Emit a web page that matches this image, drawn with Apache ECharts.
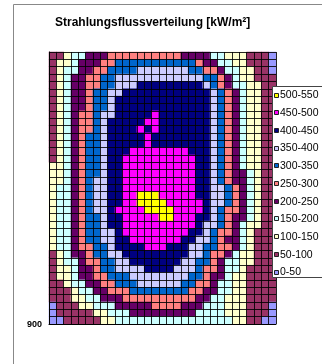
<!DOCTYPE html>
<html>
<head>
<meta charset="utf-8">
<script src="https://cdn.jsdelivr.net/npm/echarts@6/dist/echarts.min.js"></script>
<style>
  html, body { margin: 0; padding: 0; background: #fff; }
  #chart { width: 322px; height: 364px; }
</style>
</head>
<body>
<div id="chart"></div>
<script>
// Flux bands (kW/m²): lower limits, labels and fill colours
const bandLimits = [0, 50, 100, 150, 200, 250, 300, 350, 400, 450, 500, 550];
const bandLabels = ['0-50', '50-100', '100-150', '150-200', '200-250', '250-300',
                    '300-350', '350-400', '400-450', '450-500', '500-550'];
const bandColors = ['#9999FF', '#993366', '#FFFFCC', '#CCFFFF', '#660066', '#FF8080',
                    '#0066CC', '#CCCCFF', '#000080', '#FF00FF', '#FFFF00'];

// Measured band per grid cell, one string per row (top to bottom), one hex digit per column
const bandRows = [
  '1123344455555555554444332221110',
  '1223444556666666666654433221110',
  '1233445566667777777665543322110',
  '1234455667777777777776654322111',
  '1234455667778888888887654332211',
  '1234456677888888888888765432211',
  '1234456678888888888888765432211',
  '1234456678888888888888765432211',
  '1234556778888898888888765432211',
  '1234556788888998888888765432211',
  '1234556788889898888888765432211',
  '1234566788888988888888765432211',
  '1234566788888988888888765432211',
  '1234566788899999999888765432211',
  '1234566788999999999988765432211',
  '2234566788999999999988765432211',
  '2234566788999999999988765443211',
  '2234567788999999999988765443211',
  '2334567788999999999988776543211',
  '233456778899AAA9999988776543211',
  '233456778899AAAA999998776543211',
  '2334567789999AAAA99998765543211',
  '233456678899999AA99988765443211',
  '2334566788999999999987765432211',
  '2334566778999999999887655432111',
  '2334566778899999998877654432111',
  '2334556678888999888776655432111',
  '1234456677888888888776554322111',
  '1233455667788888887766543322111',
  '1223445667777888877765543321111',
  '1223445566677777777665443221111',
  '1123344556667777776655433221111',
  '1112334455566666666554433221111',
  '1112233444555555555544332221111',
  '0111223334444455554443332221110',
  '0111112233344444444433332221110',
  '0011111223333333333333333221100'
];

const yTickLabels = ['900'];
const titleText = 'Strahlungsflussverteilung [kW/m²]';

const nCols = bandRows[0].length;
const nRows = bandRows.length;
const xCats = Array.from({ length: nCols }, (_, i) => String(i + 1));
const yCats = Array.from({ length: nRows }, (_, i) => String(i + 1));

// cell value = middle of its band
const cells = [];
bandRows.forEach((row, r) => {
  for (let c = 0; c < row.length; c++) {
    const b = parseInt(row[c], 16);
    cells.push([c, r, (bandLimits[b] + bandLimits[b + 1]) / 2]);
  }
});

const pieces = bandLabels.map((label, i) => ({
  min: bandLimits[i], max: bandLimits[i + 1], label: label, color: bandColors[i]
}));

// Legend box: highest band on top, small outlined swatch + label
const LEG_X = 272.5, LEG_Y = 86.5, LEG_STEP = 17.7, LEG_FIRST = 95.5;
const legendItems = [];
legendItems.push({
  type: 'rect', z: 20,
  shape: { x: LEG_X, y: LEG_Y, width: 60, height: 191 },
  style: { fill: '#fff', stroke: '#444', lineWidth: 1 }
});
for (let k = bandLabels.length - 1, i = 0; k >= 0; k--, i++) {
  const cy = LEG_FIRST + i * LEG_STEP;
  legendItems.push({
    type: 'rect', z: 21,
    shape: { x: 274.5, y: Math.round(cy) - 2.5, width: 4, height: 4 },
    style: { fill: bandColors[k], stroke: '#222', lineWidth: 1 }
  });
  legendItems.push({
    type: 'text', z: 21, x: 280, y: cy,
    style: {
      text: bandLabels[k], fill: '#000', fontSize: 10.5,
      fontFamily: 'Liberation Sans, Arial, sans-serif', verticalAlign: 'middle'
    }
  });
}

const chart = echarts.init(document.getElementById('chart'), null, { renderer: 'canvas' });
chart.setOption({
  animation: false,
  backgroundColor: '#fff',
  textStyle: { fontFamily: 'Liberation Sans, Arial, sans-serif' },
  title: {
    text: titleText,
    left: 50, top: 12,
    textStyle: { fontSize: 12, fontWeight: 'bold', color: '#000', fontFamily: 'Liberation Sans, Arial, sans-serif' }
  },
  grid: { left: 49, top: 52, width: 227, height: 272 },
  xAxis: {
    type: 'category', data: xCats, boundaryGap: true, z: 10,
    axisLine: { show: true, lineStyle: { color: '#000', width: 1 } },
    axisTick: { show: false }, axisLabel: { show: false },
    splitLine: { show: true, interval: 0, lineStyle: { color: '#000', width: 1, opacity: 0.85 } }
  },
  yAxis: {
    type: 'category', data: yCats, inverse: true, boundaryGap: true, z: 10,
    axisLine: { show: true, lineStyle: { color: '#000', width: 1 } },
    axisTick: { show: false },
    axisLabel: {
      show: true, interval: 0, margin: 7,
      fontSize: 9, fontWeight: 'bold', color: '#000',
      verticalAlign: 'top', lineHeight: 9,
      formatter: (v, idx) => (idx === nRows - 1 ? yTickLabels[0] : '')
    },
    splitLine: { show: true, interval: 0, lineStyle: { color: '#000', width: 1, opacity: 0.85 } }
  },
  visualMap: {
    type: 'piecewise', dimension: 2, pieces: pieces, show: false
  },
  series: [{
    type: 'heatmap', data: cells, progressive: 0,
    itemStyle: { borderWidth: 0 },
    emphasis: { disabled: true }
  }],
  graphic: [
    { type: 'line', shape: { x1: 13.5, y1: 4.5, x2: 13.5, y2: 364 }, style: { stroke: '#888', lineWidth: 1 } },
    { type: 'line', shape: { x1: 13.5, y1: 4.5, x2: 322, y2: 4.5 }, style: { stroke: '#888', lineWidth: 1 } }
  ].concat(legendItems)
});
</script>
</body>
</html>
